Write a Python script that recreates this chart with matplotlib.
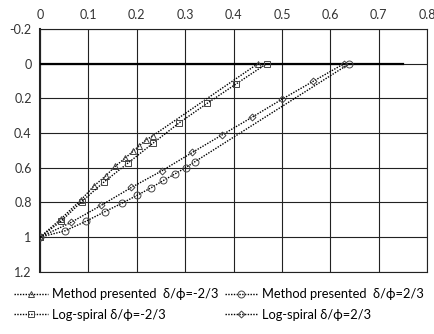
import matplotlib
matplotlib.use("Agg")
import matplotlib.pyplot as plt
from matplotlib.ticker import FuncFormatter

plt.rcParams['font.family'] = ['Lato', 'DejaVu Sans']

# Method presented, delta/phi = -2/3 (triangles)
mp_neg_x = [0, 0.043, 0.085, 0.112, 0.136, 0.155, 0.176, 0.192, 0.205, 0.220, 0.233, 0.450]
mp_neg_y = [1, 0.895, 0.784, 0.703, 0.646, 0.592, 0.544, 0.505, 0.473, 0.438, 0.415, 0.0]

# Method presented, delta/phi = 2/3 (circles)
mp_pos_x = [0, 0.052, 0.095, 0.134, 0.170, 0.201, 0.229, 0.255, 0.279, 0.301, 0.320, 0.639]
mp_pos_y = [1, 0.963, 0.908, 0.853, 0.803, 0.758, 0.716, 0.673, 0.635, 0.599, 0.565, 0.0]

# Log-spiral, delta/phi = -2/3 (squares)
ls_neg_x = [0, 0.043, 0.086, 0.133, 0.182, 0.234, 0.288, 0.345, 0.406, 0.468]
ls_neg_y = [1, 0.909, 0.795, 0.680, 0.572, 0.457, 0.340, 0.229, 0.115, 0.0]

# Log-spiral, delta/phi = 2/3 (diamonds)
ls_pos_x = [0, 0.064, 0.126, 0.189, 0.252, 0.315, 0.377, 0.439, 0.501, 0.564, 0.628]
ls_pos_y = [1, 0.915, 0.817, 0.713, 0.617, 0.511, 0.409, 0.307, 0.203, 0.102, 0.0]

# ground surface line
ground_x = [0, 0.75]
ground_y = [0, 0]

fig = plt.figure(figsize=(4.35, 3.34), dpi=100)
ax = fig.add_axes([0.092, 0.186, 0.890, 0.727])

ax.plot(ground_x, ground_y, color='black', linewidth=1.6, zorder=3)

style = dict(color='black', linestyle=(0, (1, 1)), linewidth=1.0,
             markerfacecolor='none', markeredgewidth=0.7, zorder=4)
h1, = ax.plot(mp_neg_x, mp_neg_y, marker='^', markersize=5, markeredgecolor='#444444',
              label='Method presented  δ/ϕ=-2/3', **style)
h2, = ax.plot(mp_pos_x, mp_pos_y, marker='o', markersize=5, markeredgecolor='#444444',
              label='Method presented  δ/ϕ=2/3', **style)
h3, = ax.plot(ls_neg_x, ls_neg_y, marker='s', markersize=5, markeredgecolor='#444444',
              label='Log-spiral δ/ϕ=-2/3', **style)
h4, = ax.plot(ls_pos_x, ls_pos_y, marker='D', markersize=3.5, markeredgecolor='#444444',
              label='Log-spiral δ/ϕ=2/3', **style)

ax.set_xlim(0, 0.8)
ax.set_ylim(1.2, -0.2)
ax.set_xticks([i / 10 for i in range(9)])
ax.set_yticks([-0.2, 0, 0.2, 0.4, 0.6, 0.8, 1.0, 1.2])
ax.xaxis.set_major_formatter(FuncFormatter(lambda v, p: f"{v:g}"))
ax.yaxis.set_major_formatter(FuncFormatter(lambda v, p: f"{v:g}"))
ax.xaxis.tick_top()
ax.tick_params(axis='both', length=0, labelsize=9, colors='#333333', pad=6)
ax.grid(True, color='#222222', linewidth=0.8)
for s in ax.spines.values():
    s.set_color('#222222')
    s.set_linewidth(0.8)
ax.spines['left'].set_linewidth(1.5)

fig.legend(handles=[h1, h3, h2, h4], ncol=2, frameon=False, fontsize=9.3,
           loc='upper left', bbox_to_anchor=(0.015, 0.16),
           handlelength=2.6, handletextpad=0.3, columnspacing=0.5,
           labelspacing=0.65, borderaxespad=0.2)

fig.savefig("out.png", dpi=100)
